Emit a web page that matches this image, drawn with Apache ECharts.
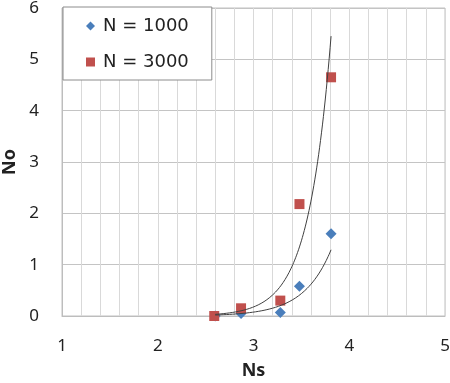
<!DOCTYPE html>
<html>
<head>
<meta charset="utf-8">
<script src="https://cdn.jsdelivr.net/npm/echarts@6/dist/echarts.min.js"></script>
<style>
html,body{margin:0;padding:0;background:#fff;}
#chart{width:450px;height:383px;}
</style>
</head>
<body>
<div id="chart"></div>
<script>
// Data
const seriesNames = ['N = 1000', 'N = 3000'];
const ns1000 = [2.6, 2.87, 3.28, 3.48, 3.81];
const no1000 = [0.0, 0.05, 0.07, 0.58, 1.60];
const ns3000 = [2.59, 2.87, 3.28, 3.48, 3.81];
const no3000 = [0.0, 0.15, 0.30, 2.18, 4.65];
// Exponential trendlines y = refY * exp(rate * (x - refX))
const trendRate = [3.5, 4.24];
const trendRefX = [3.81, 3.41];
const trendRefY = [1.29, 1.0];
const trendRange = [2.6, 3.81];
const xTicks = [1, 5, 1];
const yTicks = [0, 6, 1];

function pairs(xs, ys) { return xs.map((x, i) => [x, ys[i]]); }
function trend(k) {
  const pts = [];
  for (let i = 0; i <= 121; i++) {
    const x = trendRange[0] + (trendRange[1] - trendRange[0]) * i / 121;
    pts.push([x, trendRefY[k] * Math.exp(trendRate[k] * (x - trendRefX[k]))]);
  }
  return pts;
}

const font = '"Noto Sans", "Liberation Sans", sans-serif';
const legendFont = '"DejaVu Sans", sans-serif';
const chart = echarts.init(document.getElementById('chart'));
chart.setOption({
  animation: false,
  textStyle: { fontFamily: font },
  grid: { left: 62, right: 5, top: 8, bottom: 67, show: true, borderColor: '#c0c0c0', borderWidth: 1,
          containLabel: false, outerBoundsMode: 'none' },
  legend: {
    data: [
      { name: seriesNames[0], icon: 'diamond' },
      { name: seriesNames[1], icon: 'rect' }
    ],
    orient: 'vertical', left: 63, top: 7,
    itemWidth: 9, itemHeight: 9, itemGap: 16,
    padding: [9, 23, 8, 23],
    backgroundColor: '#fff', borderColor: '#8c8c8c', borderWidth: 1,
    textStyle: { fontFamily: legendFont, fontSize: 18, color: '#222', lineHeight: 20, padding: [0, 0, 0, 3] }
  },
  xAxis: {
    type: 'value', min: xTicks[0], max: xTicks[1], interval: xTicks[2],
    name: 'Ns', nameLocation: 'middle', nameGap: 46,
    nameTextStyle: { fontFamily: font, fontSize: 18, fontWeight: 'bold', color: '#222' },
    axisLine: { show: true, lineStyle: { color: '#bdbdbd' } },
    axisTick: { show: false },
    axisLabel: { fontSize: 17, color: '#222', margin: 22, fontFamily: font },
    splitLine: { show: true, lineStyle: { color: '#d9d9d9' } },
    minorTick: { show: false, splitNumber: 5 },
    minorSplitLine: { show: true, lineStyle: { color: '#d9d9d9' } }
  },
  yAxis: {
    type: 'value', min: yTicks[0], max: yTicks[1], interval: yTicks[2],
    name: 'No', nameLocation: 'middle', nameGap: 43,
    nameTextStyle: { fontFamily: font, fontSize: 18, fontWeight: 'bold', color: '#222' },
    axisLine: { show: true, lineStyle: { color: '#bdbdbd' } },
    axisTick: { show: false },
    axisLabel: { fontSize: 17, color: '#222', margin: 23, fontFamily: font },
    splitLine: { show: true, lineStyle: { color: '#c4c4c4' } }
  },
  series: [
    {
      name: seriesNames[0], type: 'scatter', symbol: 'diamond', symbolSize: 11,
      itemStyle: { color: '#4a7ebb', opacity: 1 }, data: pairs(ns1000, no1000), z: 3
    },
    {
      name: seriesNames[1], type: 'scatter', symbol: 'rect', symbolSize: 10,
      itemStyle: { color: '#c0504d', opacity: 1 }, data: pairs(ns3000, no3000), z: 4
    },
    {
      name: 'trend1000', type: 'line', showSymbol: false, symbol: 'none', data: trend(0),
      lineStyle: { color: '#404040', width: 1 }, z: 5, silent: true
    },
    {
      name: 'trend3000', type: 'line', showSymbol: false, symbol: 'none', data: trend(1),
      lineStyle: { color: '#404040', width: 1 }, z: 5, silent: true
    }
  ]
});
</script>
</body>
</html>
